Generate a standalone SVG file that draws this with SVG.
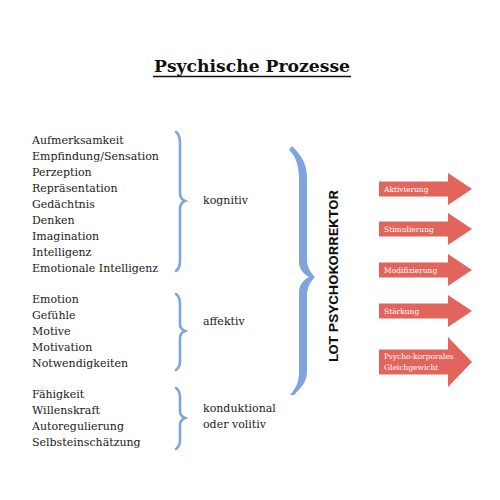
<svg xmlns="http://www.w3.org/2000/svg" width="500" height="500" viewBox="0 0 500 500">
<style>
.t{font-family:"DejaVu Serif","Liberation Serif",serif;font-size:11px;fill:#1a1a1a}
.a{font-family:"DejaVu Serif","Liberation Serif",serif;font-size:7.5px;fill:#ffffff}
.br{fill:none;stroke:#7ea4dc;stroke-width:2.6;stroke-linecap:round}
.ar{fill:#e2645b}
</style>
<rect width="500" height="500" fill="#ffffff"/>
<g id="title">
<text x="252" y="72" text-anchor="middle" font-family="DejaVu Serif, Liberation Serif, serif" font-weight="bold" font-size="17" fill="#111" textLength="196" lengthAdjust="spacingAndGlyphs">Psychische Prozesse</text>
<line x1="153" y1="76.5" x2="351" y2="76.5" stroke="#111" stroke-width="1.6"/>
</g>
<g id="kognitiv-items" class="t">
<text x="32" y="143.5">Aufmerksamkeit</text>
<text x="32" y="159.5">Empfindung/Sensation</text>
<text x="32" y="175.5">Perzeption</text>
<text x="32" y="191.5">Repräsentation</text>
<text x="32" y="207.5">Gedächtnis</text>
<text x="32" y="223.5">Denken</text>
<text x="32" y="239.5">Imagination</text>
<text x="32" y="255.5">Intelligenz</text>
<text x="32" y="271.5">Emotionale Intelligenz</text>
</g>
<g id="affektiv-items" class="t">
<text x="32" y="302.5">Emotion</text>
<text x="32" y="318.5">Gefühle</text>
<text x="32" y="334.5">Motive</text>
<text x="32" y="350.5">Motivation</text>
<text x="32" y="366.5">Notwendigkeiten</text>
</g>
<g id="konduktional-items" class="t">
<text x="32" y="397.5">Fähigkeit</text>
<text x="32" y="413.5">Willenskraft</text>
<text x="32" y="429.5">Autoregulierung</text>
<text x="32" y="445.5">Selbsteinschätzung</text>
</g>
<g id="connectors">
<path class="br" d="M176,132 Q180,135 180,143 L180,193 Q180,199 185,201 Q180,203 180,209 L180,261 Q180,268 176,271"/>
<path class="br" d="M176,294 Q180,297 180,304 L180,324 Q180,329 185,331 Q180,333 180,338 L180,361 Q180,367 176,370"/>
<path class="br" d="M176,388 Q180,391 180,397 L180,411 Q180,416 185,418 Q180,420 180,425 L180,440 Q180,446 176,449"/>
<path fill="#7ea4dc" d="M289,150 C296,156 299,166 299,180 L299,262 C299,270 305,275 309,277 C305,279 299,284 299,292 L299,372 C299,382 296,388 290,395 L294,395 C302,387 307,381 307,372 L307,295 C307,287 311,281 315,277 C311,273 307,267 307,260 L307,178 C307,163 301,155 292,146 Z"/>
</g>
<g id="labels" class="t">
<text x="203" y="204">kognitiv</text>
<text x="203" y="324.5">affektiv</text>
<text x="203" y="411.5">konduktional</text>
<text x="203" y="427.5">oder volitiv</text>
</g>
<g id="lot">
<text transform="translate(338,276) rotate(-90)" text-anchor="middle" font-family="Roboto, Liberation Sans, sans-serif" font-weight="bold" font-size="13" fill="#111" textLength="172" lengthAdjust="spacingAndGlyphs">LOT PSYCHOKORREKTOR</text>
</g>
<g id="arrow-aktivierung">
<path class="ar" d="M379,181.5 L448,181.5 L448,173 L472,189 L448,205 L448,196.5 L379,196.5 Z"/>
<text class="a" x="384" y="191.5">Aktivierung</text>
</g>
<g id="arrow-stimulierung">
<path class="ar" d="M379,221.5 L448,221.5 L448,213 L472,229 L448,245 L448,236.5 L379,236.5 Z"/>
<text class="a" x="384" y="231.5">Stimulierung</text>
</g>
<g id="arrow-modifizierung">
<path class="ar" d="M379,262.5 L448,262.5 L448,254 L472,270 L448,286 L448,277.5 L379,277.5 Z"/>
<text class="a" x="384" y="272.5">Modifizierung</text>
</g>
<g id="arrow-staerkung">
<path class="ar" d="M379,303.5 L448,303.5 L448,295 L472,311 L448,327 L448,318.5 L379,318.5 Z"/>
<text class="a" x="384" y="313.5">Stärkung</text>
</g>
<g id="arrow-gleichgewicht">
<path class="ar" d="M379,349.5 L448,349.5 L448,337 L472,362 L448,387 L448,374.5 L379,374.5 Z"/>
<text class="a" x="384" y="359">Psycho-korporales</text>
<text class="a" x="384" y="369.5">Gleichgewicht</text>
</g>
</svg>
